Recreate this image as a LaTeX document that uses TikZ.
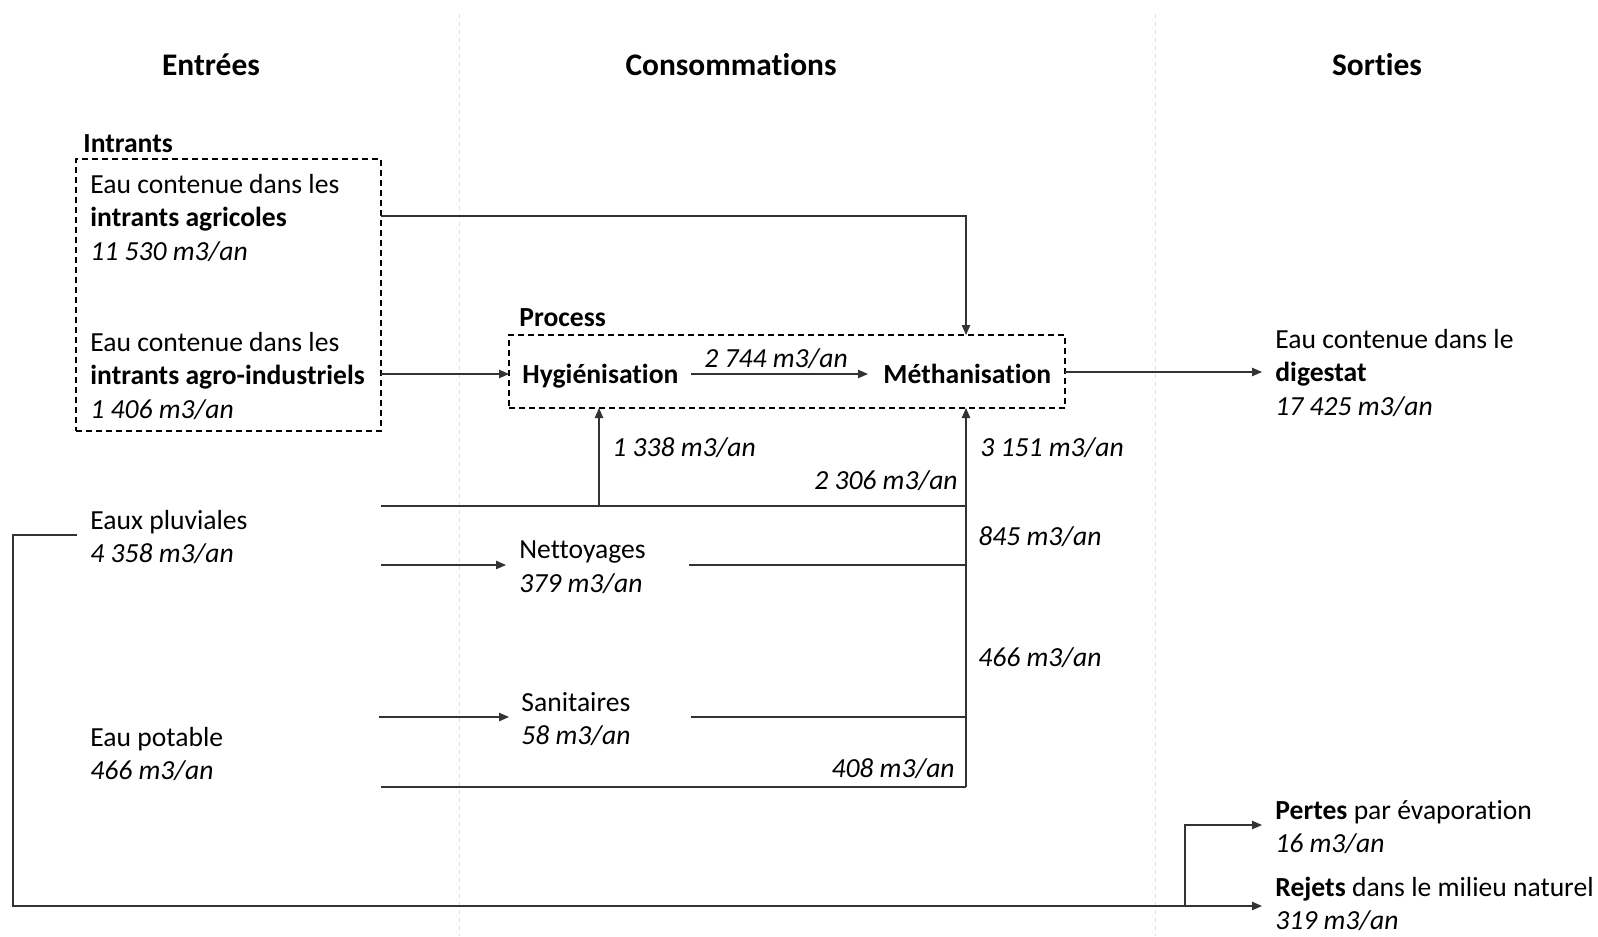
\documentclass[tikz,border=0pt]{standalone}
\usepackage{fontspec}
\setmainfont{Carlito}[Ligatures=NoCommon]
\usetikzlibrary{arrows.meta,fit}

\begin{document}
\begin{tikzpicture}[x=0.5pt,y=-0.5pt,
  conn/.style={draw=black!80, line width=0.6pt},
  arr/.style={conn,-{Triangle[length=5pt,width=4.2pt]}},
  dbox/.style={draw=black, line width=0.75pt, dash pattern=on 3pt off 2pt, inner sep=0pt},
  txt/.style={anchor=west, align=left, inner sep=0pt, yshift=-1pt, font=\fontsize{13.8}{16.8}\selectfont},
  btxt/.style={txt, text height=9.6pt, text depth=0pt, font=\fontsize{13.8}{16.8}\selectfont\bfseries},
  lbl/.style={inner sep=0pt, yshift=-1pt, font=\fontsize{13.8}{16.8}\selectfont\itshape},
  head/.style={inner sep=0pt, font=\fontsize{15.7}{19}\selectfont\bfseries},
  divider/.style={draw=black!12, line width=0.4pt, dash pattern=on 2pt off 2pt}]
\useasboundingbox (0,0) rectangle (1598,936);

% column dividers
\coordinate (d1t) at (459,14); \coordinate (d1b) at (459,936);
\coordinate (d2t) at (1155,14); \coordinate (d2b) at (1155,936);
\draw[divider] (d1t) -- (d1b);
\draw[divider] (d2t) -- (d2b);

% headings
\node[head] (hin) at (211,65) {Entrées};
\node[head] (hcons) at (731,65) {Consommations};
\node[head] (hout) at (1377,65) {Sorties};

% Intrants group
\node[btxt] (intrlbl) at (83,141) {Intrants};
\node[dbox, fit={(76,159) (381,431)}] (intrbox) {};
\node[txt] (agri) at (90,216) {Eau contenue dans les\\\textbf{intrants agricoles}\\\textit{11 530 m3/an}};
\node[txt] (indus) at (90,374) {Eau contenue dans les\\\textbf{intrants agro-industriels}\\\textit{1 406 m3/an}};

% other inputs
\node[txt] (pluv) at (90,535) {Eaux pluviales\\\textit{4 358 m3/an}};
\node[txt] (pot) at (90,752) {Eau potable\\\textit{466 m3/an}};

% Process group
\node[btxt] (proclbl) at (519,315) {Process};
\node[dbox, fit={(509,335) (1065,408)}] (procbox) {};
\node[btxt] (hyg) at (522,372) {Hygiénisation};
\node[btxt] (meth) at (883,372) {Méthanisation};

% consumptions
\node[txt] (net) at (519,565) {Nettoyages\\\textit{379 m3/an}};
\node[txt] (san) at (521,717) {Sanitaires\\\textit{58 m3/an}};

% outputs
\node[txt] (dig) at (1275,371) {Eau contenue dans le\\\textbf{digestat}\\\textit{17 425 m3/an}};
\node[txt] (pert) at (1275,825) {\textbf{Pertes} par évaporation\\\textit{16 m3/an}};
\node[txt] (rej) at (1275,902) {\textbf{Rejets} dans le milieu naturel\\\textit{319 m3/an}};

% helper coordinates
\coordinate (mtop) at (966,335);
\coordinate (mbot) at (966,408);
\coordinate (hbot) at (599,408);
\coordinate (jpl) at (599,506);
\coordinate (plA) at (381,506);
\coordinate (plB) at (966,506);
\coordinate (netA) at (381,565);
\coordinate (netB) at (506,565);
\coordinate (netC) at (689,565);
\coordinate (netD) at (966,565);
\coordinate (sanA) at (379,717);
\coordinate (sanB) at (509,717);
\coordinate (sanC) at (691,717);
\coordinate (sanD) at (966,717);
\coordinate (potA) at (381,787);
\coordinate (potB) at (966,787);
\coordinate (loopS) at (77,535);
\coordinate (loopC) at (13,906);
\coordinate (loopE) at (1262,906);
\coordinate (brA) at (1185,906);
\coordinate (brE) at (1262,825);
\coordinate (digA) at (1065,372);
\coordinate (digE) at (1262,372);
\coordinate (agA) at (381,216);
\coordinate (inA) at (381,374);
\coordinate (inE) at (509,374);
\coordinate (hmA) at (691,374);
\coordinate (hmE) at (868,374);

% connectors
\draw[arr] (agA) -| (mtop);
\draw[arr] (inA) -- (inE);
\draw[arr] (hmA) -- (hmE);
\draw[arr] (digA) -- (digE);
\draw[conn] (plA) -- (plB);
\draw[arr] (jpl) -- (hbot);
\draw[arr] (potB) -- (mbot);
\draw[conn] (potA) -- (potB);
\draw[arr] (netA) -- (netB);
\draw[conn] (netC) -- (netD);
\draw[arr] (sanA) -- (sanB);
\draw[conn] (sanC) -- (sanD);
\draw[arr] (loopS) -| (loopC) -- (loopE);
\draw[arr] (brA) |- (brE);

% flow labels
\node[lbl] (l2744) at (776,357) {2 744 m3/an};
\node[lbl, anchor=west] (l1338) at (612,446) {1 338 m3/an};
\node[lbl, anchor=west] (l3151) at (980,446) {3 151 m3/an};
\node[lbl, anchor=east] (l2306) at (958,479) {2 306 m3/an};
\node[lbl, anchor=west] (l845) at (978,535) {845 m3/an};
\node[lbl, anchor=west] (l466) at (978,656) {466 m3/an};
\node[lbl, anchor=east] (l408) at (955,767) {408 m3/an};
\end{tikzpicture}
\end{document}
